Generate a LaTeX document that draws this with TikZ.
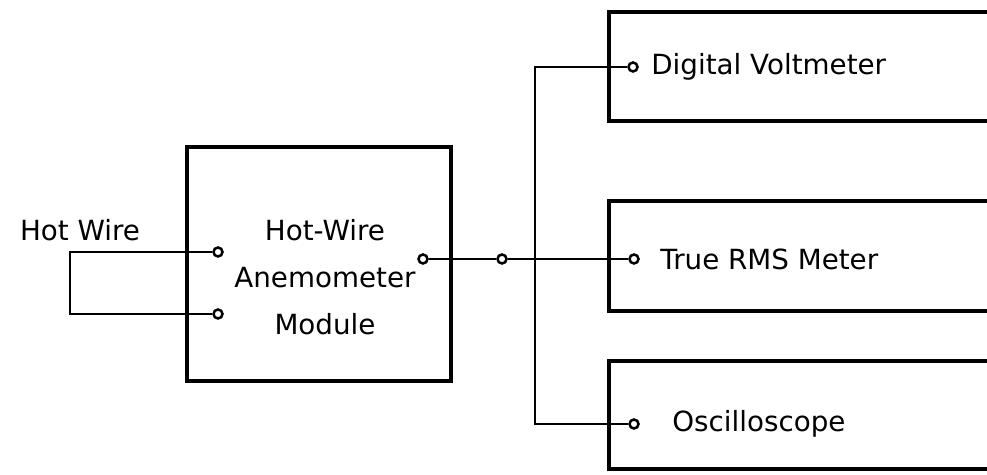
\documentclass[tikz,border=0pt]{standalone}
\usepackage{fontspec}
\setmainfont{DejaVu Sans}
\usepackage{tikz}
\usetikzlibrary{positioning}

\begin{document}
\begin{tikzpicture}[
    x=0.02cm, y=-0.02cm,
    unit/.style={rectangle, draw, line width=0.085cm, inner sep=0pt},
    term/.style={circle, draw, fill=white, line width=0.05cm, minimum size=0.18cm, inner sep=0pt},
    lbl/.style={font=\fontsize{15.8}{18}\selectfont, inner sep=0pt},
    wire/.style={line width=0.03cm},
]
\useasboundingbox (0,0) rectangle (987,475);

% === HOT-WIRE MODULE ===
\node[unit, minimum width=5.28cm, minimum height=4.68cm] (module) at (319,264) {};
\node[lbl, align=center, font=\fontsize{15.8}{26.7}\selectfont] (modtext) at (325,277)
    {Hot-Wire\\Anemometer\\Module};
\node[lbl] (hotwire) at (80,230) {Hot Wire};

\node[term] (in1)  at (218,252) {};
\node[term] (in2)  at (218,314) {};
\node[term] (out)  at (423,259) {};
\node[term] (mid)  at (502,259) {};

% === INSTRUMENTS ===
\node[unit, minimum width=8.02cm, minimum height=2.18cm] (dvm) at (809.5,66.5) {};
\node[unit, minimum width=8.02cm, minimum height=2.2cm]  (rms) at (809.5,256) {};
\node[unit, minimum width=8.02cm, minimum height=2.16cm] (osc) at (809.5,415) {};

\node[term] (tdvm) at (633,67)  {};
\node[term] (trms) at (634,259) {};
\node[term] (tosc) at (634,424) {};

\node[lbl, anchor=west] (dvmtext) at (651,67)  {Digital Voltmeter};
\node[lbl, anchor=west] (rmstext) at (660,259) {True RMS Meter};
\node[lbl, anchor=west] (osctext) at (672,424) {Oscilloscope};

% === WIRING ===
\coordinate (loop) at (70,252);
\coordinate (bustop) at (535,67);
\coordinate (busbot) at (535,424);

\draw[wire] (in1.west) -- (loop) |- (in2.west);
\draw[wire] (out.east) -- (mid.west);
\draw[wire] (mid.east) -- (trms.west);
\draw[wire] (tdvm.west) -- (bustop) -- (busbot) -- (tosc.west);

\end{tikzpicture}
\end{document}
